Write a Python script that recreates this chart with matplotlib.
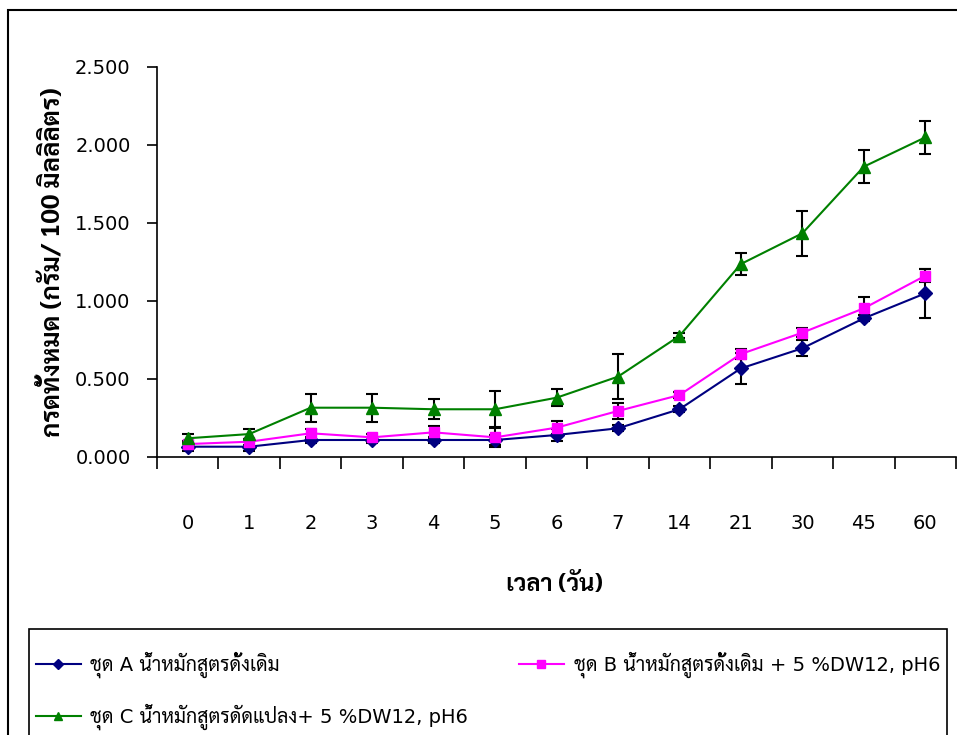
import matplotlib
matplotlib.use('Agg')
import matplotlib.pyplot as plt
from matplotlib import font_manager
from matplotlib.ft2font import FT2Font
from matplotlib.lines import Line2D
from matplotlib.patches import Rectangle

# data
days = ['0', '1', '2', '3', '4', '5', '6', '7', '14', '21', '30', '45', '60']
set_a = [0.066, 0.066, 0.109, 0.109, 0.109, 0.109, 0.141, 0.184, 0.306, 0.568, 0.697, 0.889, 1.049]
err_a = [0.03, 0.03, 0.02, 0.02, 0.02, 0.03, 0.04, 0.02, 0.02, 0.10, 0.05, 0.02, 0.157]
set_b = [0.083, 0.098, 0.152, 0.126, 0.158, 0.126, 0.188, 0.295, 0.397, 0.660, 0.797, 0.953, 1.162]
err_b = [0.02, 0.02, 0.03, 0.02, 0.04, 0.06, 0.04, 0.05, 0.02, 0.03, 0.03, 0.075, 0.04]
set_c = [0.120, 0.147, 0.316, 0.316, 0.306, 0.306, 0.380, 0.515, 0.776, 1.237, 1.434, 1.861, 2.049]
err_c = [0.03, 0.03, 0.09, 0.09, 0.065, 0.115, 0.054, 0.145, 0.016, 0.068, 0.146, 0.104, 0.108]

labels = ['ชุด A น้ำหมักสูตรดั้งเดิม',
          'ชุด B น้ำหมักสูตรดั้งเดิม + 5 %DW12, pH6',
          'ชุด C น้ำหมักสูตรดัดแปลง+ 5 %DW12, pH6']
x_title = 'เวลา (วัน)'
y_title = 'กรดทั้งหมด (กรัม/ 100 มิลลิลิตร)'


def find_thai_font():
    # families with Thai glyphs, and the weights they come in
    weights = {}
    for f in font_manager.fontManager.ttflist:
        try:
            if 0x0E01 in FT2Font(f.fname).get_charmap():
                weights.setdefault(f.name, set()).add(f.weight)
        except Exception:
            pass
    with_bold = [n for n, w in weights.items() if 700 in w and 400 in w]
    for want in ['Sarabun', 'Noto Sans Thai Looped', 'Niramit', 'Noto Sans Thai', 'Bai Jamjuree']:
        if want in with_bold:
            return want
    if with_bold:
        return with_bold[0]
    return list(weights)[0] if weights else 'DejaVu Sans'


thai = find_thai_font()
num_font = 'DejaVu Sans'
plt.rcParams['font.family'] = [num_font, thai]

W, H = 957, 735
fig = plt.figure(figsize=(W / 100, H / 100), dpi=100)
ax = fig.add_axes([157 / W, 1 - 457 / H, (956 - 157) / W, (457 - 67) / H])

x = list(range(len(days)))
series = [(set_a, err_a, '#000080', 'D', 7),
          (set_b, err_b, '#FF00FF', 's', 7),
          (set_c, err_c, '#008000', '^', 8.5)]
for vals, errs, col, mk, ms in series:
    ax.errorbar(x, vals, yerr=errs, color=col, marker=mk, markersize=ms,
                lw=1.5, ecolor='black', elinewidth=1.5, capsize=4, capthick=1.5, zorder=3)

ax.set_xlim(-0.5, len(days) - 0.5)
ax.set_ylim(0, 2.5)
ax.set_yticks([0, 0.5, 1.0, 1.5, 2.0, 2.5])
ax.set_yticklabels(['%.3f' % v for v in [0, 0.5, 1.0, 1.5, 2.0, 2.5]])
ax.set_xticks(x)
ax.set_xticklabels(days)
ax.set_xticks([i - 0.5 for i in range(len(days) + 1)], minor=True)
ax.tick_params(axis='x', which='major', length=0, pad=41, labelsize=14)
ax.tick_params(axis='x', which='minor', length=8.5, width=1.2, direction='out')
ax.tick_params(axis='y', length=7, width=1.2, pad=12, labelsize=14)
for s in ['top', 'right']:
    ax.spines[s].set_visible(False)
for s in ['left', 'bottom']:
    ax.spines[s].set_linewidth(1.2)

title_fams = [thai, num_font]
fig.text(555 / W, 1 - 585 / H, x_title, ha='center', va='center', fontsize=17,
         fontweight='bold', family=title_fams)
fig.text(53 / W, 1 - 262 / H, y_title, ha='center', va='center', rotation=90, fontsize=18.5,
         fontweight='bold', family=title_fams)

# outer chart border and legend frame
fig.patches.append(Rectangle((8 / W, -0.1), 1.2, 1.1 - 10 / H, transform=fig.transFigure,
                             fill=False, lw=1.5, ec='black'))
fig.patches.append(Rectangle((29 / W, -0.1), (947 - 29) / W, 0.1 + 1 - 629 / H,
                             transform=fig.transFigure, fill=False, lw=1.2, ec='black'))

# legend is filled column by column, so order A, C | B gives rows A B / C
handles = [Line2D([], [], color=c, marker=m, markersize=ms * 0.75, lw=1.5) for _, _, c, m, ms in series]
order = [0, 2, 1]
fig.legend([handles[i] for i in order], [labels[i] for i in order], ncol=2, loc='upper left',
           mode='expand', frameon=False,
           bbox_to_anchor=(36 / W, 1 - 659 / H, (940 - 36) / W, 0.01),
           fontsize=14, handlelength=2.3, handletextpad=0.5, labelspacing=1.3, borderpad=0,
           borderaxespad=0)

fig.savefig('out.png', dpi=100)
